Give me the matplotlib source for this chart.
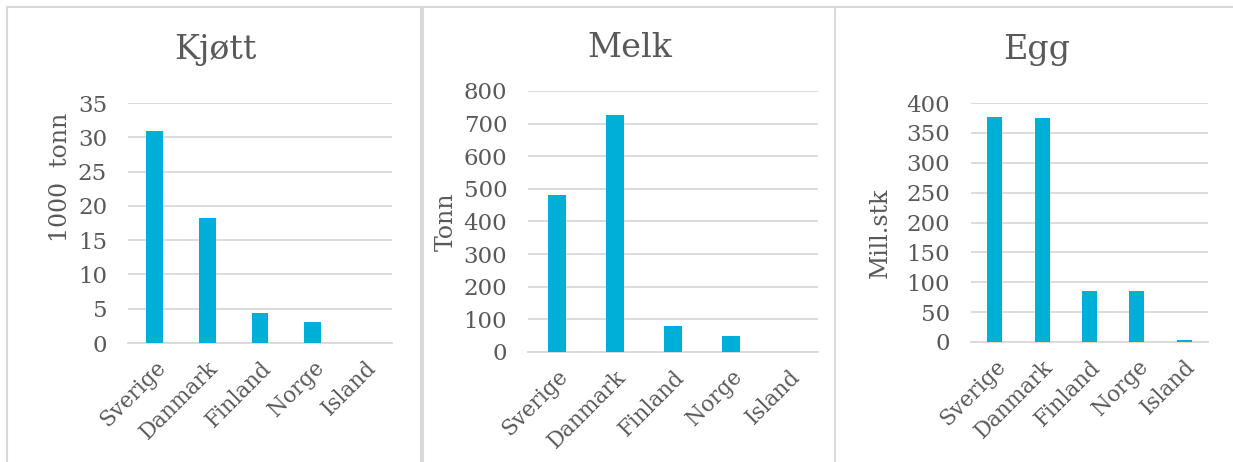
import matplotlib
matplotlib.use("Agg")
import matplotlib.pyplot as plt
from matplotlib.lines import Line2D

categories = ["Sverige", "Danmark", "Finland", "Norge", "Island"]
kjott = [30.9, 18.2, 4.4, 3.1, 0.0]
melk = [480, 727, 80, 50, 0]
egg = [377, 375, 86, 85, 3]

titles = ["Kjøtt", "Melk", "Egg"]
ylabels = ["1000  tonn", "Tonn", "Mill.stk"]
yticks_list = [list(range(0, 36, 5)), list(range(0, 801, 100)), list(range(0, 401, 50))]
series = [kjott, melk, egg]

W, H = 1233, 462
fig = plt.figure(figsize=(W / 100, H / 100), dpi=100)
fig.patch.set_facecolor("white")

plt.rcParams["font.family"] = ["DejaVu Serif"]
txt = "#595959"
grid = "#D9D9D9"
bar_c = "#00AFD6"

# axes boxes in pixels: (left, right, top, bottom)
boxes = [(128, 392, 103, 343), (528, 818, 91, 352), (971, 1208, 103, 342)]
title_pos = [(215, 50), (630, 48), (1037, 50)]
ylabel_xy = [(-0.212, 0.69), (-0.241, 0.5), (-0.333, 0.456)]

for i in range(3):
    l, r, t, b = boxes[i]
    ax = fig.add_axes([l / W, 1 - b / H, (r - l) / W, (b - t) / H])
    x = list(range(len(categories)))
    ax.bar(x, series[i], width=0.32, color=bar_c, zorder=3)
    ax.set_xlim(-0.5, len(categories) - 0.5)
    yt = yticks_list[i]
    ax.set_ylim(0, yt[-1])
    ax.set_yticks(yt)
    ax.set_yticklabels([str(v) for v in yt], fontsize=16.5, color=txt)
    ax.set_xticks(x)
    ax.set_xticklabels(categories, rotation=45, ha="right", rotation_mode="anchor",
                       fontsize=15.5, color=txt)
    ax.tick_params(axis="both", length=0)
    ax.tick_params(axis="y", pad=15)
    ax.tick_params(axis="x", pad=10)
    ax.yaxis.grid(True, color=grid, linewidth=1.3, zorder=0)
    ax.set_axisbelow(True)
    for s in ["top", "right", "left"]:
        ax.spines[s].set_visible(False)
    ax.spines["bottom"].set_color(grid)
    ax.spines["bottom"].set_linewidth(1.3)
    ax.set_ylabel(ylabels[i], fontsize=17, color=txt)
    ax.yaxis.set_label_coords(*ylabel_xy[i])
    tx, ty = title_pos[i]
    fig.text(tx / W, 1 - ty / H, titles[i], fontsize=24, color=txt,
             ha="center", va="center")

# panel borders
bc = "#D9D9D9"
fig.add_artist(Line2D([6.5 / W, 1], [1 - 6.5 / H, 1 - 6.5 / H], color=bc, linewidth=1.5))
for xp in [6.5, 421, 423, 835]:
    fig.add_artist(Line2D([xp / W, xp / W], [0, 1 - 6.5 / H], color=bc, linewidth=1.5))

fig.savefig("out.png", dpi=100, facecolor="white")
